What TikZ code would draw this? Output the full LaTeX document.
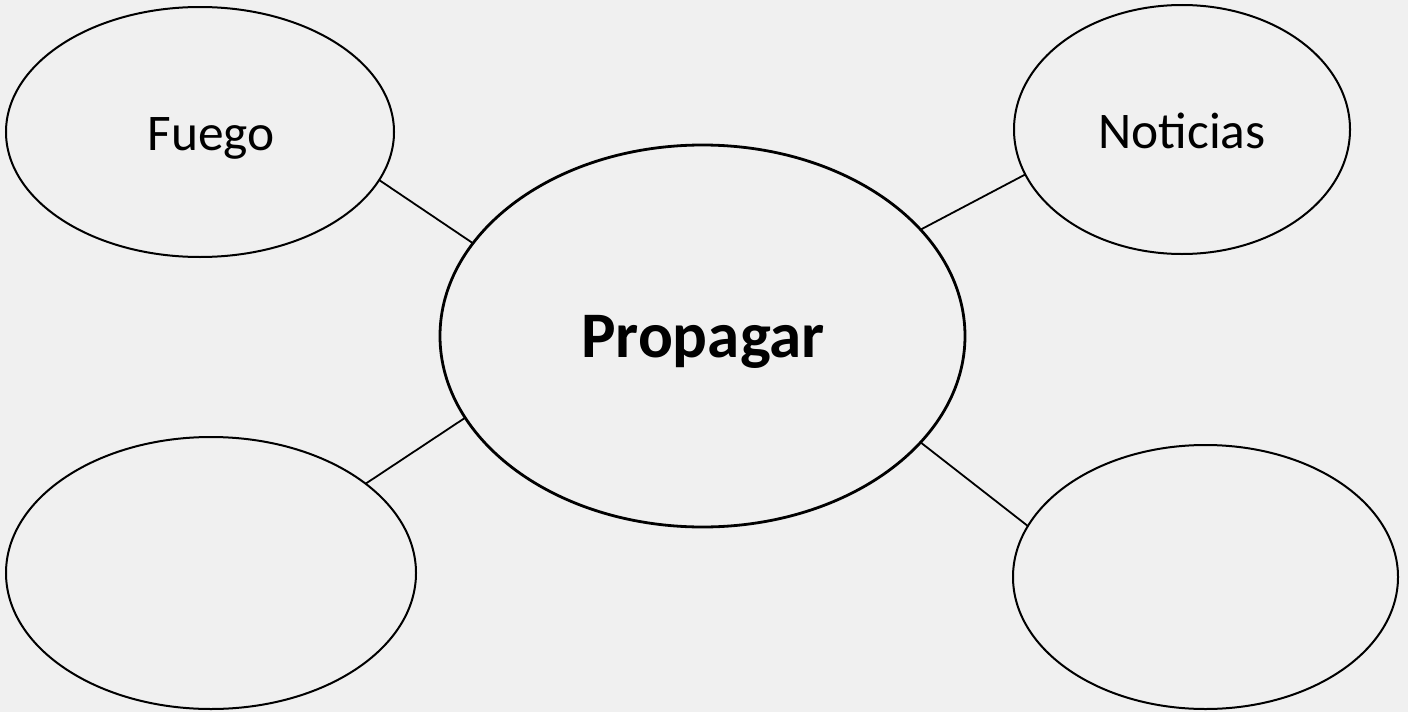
\documentclass[tikz,border=0pt]{standalone}
\usepackage{fontspec}
\setmainfont{Carlito}
\usetikzlibrary{shapes.geometric}
\begin{document}
\begin{tikzpicture}[x=0.5pt,y=-0.5pt,
  bubble/.style={draw=black, line width=1pt, ellipse, inner sep=0pt, outer sep=0pt},
  word/.style={anchor=base, inner sep=0pt, font=\fontsize{25.7}{30}\selectfont},
  link/.style={draw=black, line width=0.9pt}]
\fill[black!6] (0,0) rectangle (1408,712);
\useasboundingbox (0,0) rectangle (1408,712);
% bubbles
\node[bubble, minimum width=194pt, minimum height=125pt] (fuego) at (200,132) {};
\node[bubble, minimum width=168pt, minimum height=124.5pt] (noticias) at (1182,129.5) {};
\node[bubble, line width=1.4pt, minimum width=262.5pt, minimum height=191pt] (prop) at (702.5,336) {};
\node[bubble, minimum width=205pt, minimum height=136pt] (bl) at (211,573) {};
\node[bubble, minimum width=192.5pt, minimum height=132pt] (br) at (1205.5,577) {};
% texts
\node[word] (tfuego) at (211,150) {Fuego};
\node[word] (tnoticias) at (1182,148) {Noticias};
\node[word, font=\fontsize{32.5}{38}\selectfont\bfseries] (tprop) at (703,357) {Propagar};
% connectors
\draw[link] (fuego.-15) -- (prop.158);
\draw[link] (noticias.-164) -- (prop.26);
\draw[link] (bl.30) -- (prop.199);
\draw[link] (br.164) -- (prop.-26);
\end{tikzpicture}
\end{document}
